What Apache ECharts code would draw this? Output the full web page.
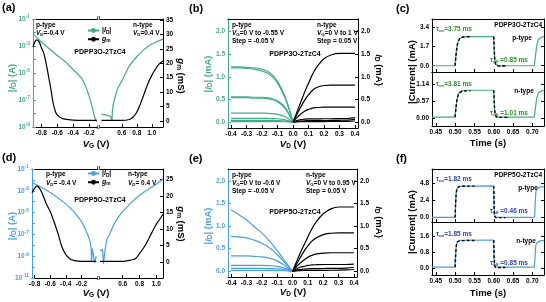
<!DOCTYPE html>
<html>
<head>
<meta charset="utf-8">
<script src="https://cdn.jsdelivr.net/npm/echarts@6.0.0/dist/echarts.min.js"></script>
<style>
html, body { margin: 0; padding: 0; background: #fff; }
#chart { width: 546px; height: 302px; }
</style>
</head>
<body>
<div id="chart"></div>
<script>
// colours
const GREEN = '#45a98c';
const BLUE = '#4a9fe0';
const TAU_GREEN = '#2e8b2e';
const TAU_BLUE = '#3342a8';
const FONT = '"Liberation Sans", Arial, sans-serif';

// ---- (a) PDPP3O-2TzC4 transfer curves ----
const aVgP = [-0.905, -0.85, -0.8, -0.7, -0.6, -0.5, -0.4, -0.3, -0.25, -0.2, -0.16, -0.13, -0.105];
const aIdP = [7.9e-3, 4e-3, 2e-3, 6.3e-4, 2e-4, 7e-5, 1.8e-5, 4.5e-6, 1.3e-6, 2e-7, 2.8e-8, 5.5e-9, 2.5e-9];
const aVgN = [0.33, 0.4, 0.45, 0.47, 0.475, 0.5, 0.55, 0.6, 0.7, 0.8, 0.9, 1.0, 1.1, 1.15];
const aIdN = [9e-9, 7.5e-9, 6e-9, 3e-9, 1.5e-8, 1e-7, 8e-7, 2.5e-6, 3.2e-5, 1.6e-4, 5.6e-4, 1.4e-3, 2.5e-3, 3.2e-3];
const aGmVgP = [-0.905, -0.88, -0.86, -0.83, -0.8, -0.77, -0.74, -0.71, -0.68, -0.65, -0.62, -0.6, -0.55, -0.5, -0.4, -0.3, -0.105];
const aGmP = [25.7, 27.5, 28.1, 27.5, 25.5, 23.5, 20, 15.5, 11, 6, 3, 2.1, 1.0, 0.6, 0.3, 0.2, 0.2];
const aGmVgN = [0.33, 0.6, 0.7, 0.75, 0.8, 0.85, 0.9, 0.95, 1.0, 1.05, 1.1, 1.15];
const aGmN = [0.2, 0.2, 0.5, 1.3, 3, 6, 9.5, 13, 15.8, 18, 19.8, 20.8];
const aTicksP = [-0.8, -0.6, -0.4, -0.2];
const aTicksN = [0.6, 0.8, 1.0];
const aGmTicks = [0, 5, 10, 15, 20, 25, 30, 35];

// ---- (b) PDPP3O-2TzC4 output curves ----
const bVp = [-0.4, -0.35, -0.3, -0.25, -0.2, -0.15, -0.1, -0.05, 0];
const bIp = [
  [1.22, 1.22, 1.21, 1.2, 1.17, 1.09, 0.9, 0.55, 0],
  [1.2, 1.2, 1.19, 1.17, 1.13, 1.05, 0.86, 0.52, 0],
  [0.56, 0.56, 0.56, 0.55, 0.55, 0.53, 0.47, 0.32, 0],
  [0.54, 0.54, 0.54, 0.53, 0.53, 0.51, 0.45, 0.3, 0],
  [0.2, 0.2, 0.2, 0.2, 0.2, 0.19, 0.17, 0.12, 0],
  [0.085, 0.085, 0.085, 0.085, 0.085, 0.08, 0.075, 0.05, 0],
  [0.04, 0.04, 0.04, 0.04, 0.04, 0.038, 0.035, 0.025, 0],
  [0.012, 0.012, 0.012, 0.012, 0.012, 0.011, 0.01, 0.008, 0]
];
const bVn = [0, 0.025, 0.05, 0.075, 0.1, 0.125, 0.15, 0.2, 0.25, 0.3, 0.35, 0.4];
const bIn = [
  [0, 0.22, 0.44, 0.66, 0.86, 1.05, 1.2, 1.4, 1.49, 1.52, 1.52, 1.52],
  [0, 0.17, 0.33, 0.48, 0.6, 0.7, 0.76, 0.81, 0.82, 0.82, 0.82, 0.82],
  [0, 0.1, 0.18, 0.24, 0.28, 0.31, 0.32, 0.33, 0.33, 0.33, 0.33, 0.33],
  [0, 0.035, 0.055, 0.065, 0.07, 0.072, 0.073, 0.074, 0.075, 0.077, 0.08, 0.1],
  [0, 0.015, 0.025, 0.03, 0.032, 0.033, 0.034, 0.035, 0.037, 0.04, 0.045, 0.06],
  [0, 0.005, 0.008, 0.01, 0.011, 0.012, 0.012, 0.013, 0.014, 0.015, 0.018, 0.025]
];
const vdTicks = [-0.4, -0.3, -0.2, -0.1, 0, 0.1, 0.2, 0.3, 0.4];
const idTicks = [0, 0.5, 1.0, 1.5, 2.0];
const arrowX = [-0.3, 0.3];
const bArrowTop = 1.63;

// ---- (c) PDPP3O-2TzC4 transient response ----
const cT = [0.44, 0.499, 0.5, 0.502, 0.504, 0.506, 0.508, 0.511, 0.515, 0.52, 0.53, 0.599, 0.6, 0.601, 0.602, 0.603, 0.605, 0.608, 0.612, 0.705, 0.706, 0.708, 0.71, 0.712, 0.714, 0.717, 0.721, 0.726, 0.73];
const cTopI = [0, 0, 0.1, 0.9, 1.5, 1.95, 2.2, 2.4, 2.52, 2.58, 2.6, 2.6, 2.4, 1.5, 0.8, 0.4, 0.12, 0.03, 0, 0, 0.1, 0.9, 1.5, 1.95, 2.2, 2.4, 2.52, 2.58, 2.6];
const cBotI = [0.04, 0.04, 0.08, 0.35, 0.57, 0.7, 0.79, 0.86, 0.9, 0.92, 0.93, 0.93, 0.85, 0.55, 0.32, 0.18, 0.08, 0.05, 0.04, 0.04, 0.08, 0.35, 0.57, 0.7, 0.79, 0.86, 0.9, 0.92, 0.93];
const cFitRiseT = [0.5, 0.502, 0.504, 0.506, 0.508, 0.511, 0.515, 0.52, 0.53, 0.54];
const cFitRiseTop = [0, 0.88, 1.48, 1.93, 2.18, 2.38, 2.5, 2.56, 2.59, 2.6];
const cFitRiseBot = [0.04, 0.33, 0.55, 0.68, 0.77, 0.84, 0.88, 0.9, 0.91, 0.91];
const cFitFallT = [0.6, 0.601, 0.602, 0.603, 0.605, 0.608, 0.612, 0.62, 0.635];
const cFitFallTop = [2.6, 1.6, 0.85, 0.42, 0.12, 0.02, -0.02, -0.02, -0.02];
const cFitFallBot = [0.93, 0.57, 0.33, 0.19, 0.08, 0.04, 0.03, 0.03, 0.03];
const timeTicks = [0.45, 0.5, 0.55, 0.6, 0.65, 0.7];
const cTopTicks = [0, 1.7, 3.4];
const cBotTicks = [0, 0.57, 1.14];

// ---- (d) PDPP5O-2TzC4 transfer curves ----
const dVgP = [-0.835, -0.8, -0.7, -0.6, -0.5, -0.4, -0.3, -0.2, -0.15, -0.11, -0.09, -0.075, -0.07, -0.06, -0.04, -0.03, -0.01];
const dIdP = [6.3e-3, 4.5e-3, 1.8e-3, 7e-4, 2.2e-4, 6.3e-5, 1.3e-5, 1.6e-6, 3.2e-7, 6.3e-8, 2.5e-8, 5e-9, 3.2e-10, 5e-9, 4e-9, 2.5e-10, 1e-9];
const dVgN = [0.33, 0.36, 0.372, 0.39, 0.41, 0.43, 0.45, 0.5, 0.55, 0.6, 0.7, 0.8, 0.9, 1.0, 1.08];
const dIdN = [3.2e-9, 4e-9, 2e-10, 4e-9, 3.2e-8, 6.3e-8, 1.3e-7, 1e-6, 4e-6, 1.3e-5, 7.9e-5, 4e-4, 1.3e-3, 4e-3, 1.2e-2];
const dGmVgP = [-0.835, -0.8, -0.77, -0.74, -0.7, -0.65, -0.6, -0.55, -0.5, -0.45, -0.4, -0.35, -0.3, -0.2, -0.01];
const dGmP = [20.9, 22.3, 22.9, 22.3, 20.5, 17.5, 15.2, 12, 8.5, 4.5, 2.2, 1.0, 0.5, 0.2, 0.2];
const dGmVgN = [0.33, 0.6, 0.7, 0.75, 0.8, 0.85, 0.9, 0.95, 1.0, 1.05, 1.08];
const dGmN = [0.2, 0.2, 0.6, 1.0, 2.5, 4.3, 6.5, 9.0, 11.4, 13.2, 14.5];
const dTicksP = [-0.8, -0.6, -0.4, -0.2];
const dTicksN = [0.6, 0.8, 1.0];
const dGmTicks = [0, 5, 10, 15, 20, 25];

// ---- (e) PDPP5O-2TzC4 output curves ----
const eVp = [-0.4, -0.35, -0.3, -0.25, -0.2, -0.15, -0.1, -0.05, 0];
const eIp = [
  [1.36, 1.25, 1.14, 0.99, 0.85, 0.67, 0.46, 0.23, 0],
  [0.77, 0.76, 0.74, 0.69, 0.62, 0.52, 0.37, 0.19, 0],
  [0.34, 0.34, 0.34, 0.33, 0.32, 0.29, 0.23, 0.13, 0],
  [0.13, 0.13, 0.13, 0.13, 0.13, 0.125, 0.11, 0.07, 0],
  [0.065, 0.065, 0.065, 0.065, 0.063, 0.06, 0.055, 0.035, 0],
  [0.02, 0.02, 0.02, 0.02, 0.02, 0.019, 0.017, 0.012, 0]
];
const eVn = [0, 0.025, 0.05, 0.075, 0.1, 0.125, 0.15, 0.2, 0.25, 0.3, 0.35, 0.4];
const eIn = [
  [0, 0.2, 0.4, 0.58, 0.76, 0.93, 1.07, 1.27, 1.38, 1.42, 1.42, 1.42],
  [0, 0.15, 0.3, 0.44, 0.56, 0.66, 0.73, 0.81, 0.84, 0.85, 0.85, 0.85],
  [0, 0.1, 0.18, 0.25, 0.31, 0.35, 0.38, 0.4, 0.41, 0.41, 0.41, 0.41],
  [0, 0.05, 0.09, 0.11, 0.13, 0.14, 0.145, 0.15, 0.15, 0.15, 0.15, 0.16],
  [0, 0.025, 0.04, 0.05, 0.055, 0.058, 0.06, 0.062, 0.064, 0.066, 0.07, 0.09],
  [0, 0.01, 0.015, 0.018, 0.02, 0.02, 0.021, 0.022, 0.023, 0.025, 0.03, 0.04]
];
const eArrowTop = 1.53;

// ---- (f) PDPP5O-2TzC4 transient response ----
const fT = [0.44, 0.499, 0.5, 0.501, 0.502, 0.503, 0.505, 0.508, 0.512, 0.52, 0.599, 0.6, 0.601, 0.602, 0.603, 0.605, 0.705, 0.706, 0.707, 0.708, 0.709, 0.711, 0.714, 0.718, 0.725, 0.73];
const fTopI = [0, 0, 0.3, 1.8, 2.9, 3.6, 4.1, 4.3, 4.38, 4.4, 4.42, 3.5, 1.1, 0.35, 0.1, 0, 0, 0.3, 1.8, 2.9, 3.6, 4.0, 4.15, 4.25, 4.3, 4.32];
const fBotI = [0.05, 0.05, 0.1, 0.6, 0.95, 1.15, 1.3, 1.36, 1.38, 1.39, 1.4, 1.1, 0.4, 0.15, 0.08, 0.05, 0.05, 0.1, 0.6, 0.95, 1.15, 1.26, 1.32, 1.35, 1.37, 1.37];
const fFitRiseT = [0.5, 0.501, 0.502, 0.503, 0.505, 0.508, 0.512, 0.52, 0.535, 0.55];
const fFitRiseTop = [0, 1.7, 2.8, 3.5, 4.05, 4.28, 4.36, 4.38, 4.4, 4.4];
const fFitRiseBot = [0.05, 0.55, 0.9, 1.1, 1.27, 1.34, 1.36, 1.37, 1.38, 1.38];
const fFitFallT = [0.6, 0.6005, 0.601, 0.602, 0.603, 0.605, 0.61, 0.62, 0.63];
const fFitFallTop = [4.42, 2.6, 1.2, 0.35, 0.1, 0, -0.03, -0.03, -0.03];
const fFitFallBot = [1.4, 1.0, 0.45, 0.16, 0.08, 0.04, 0.03, 0.03, 0.03];
const fTopTicks = [0, 2.4, 4.8];
const fBotTicks = [0, 0.8, 1.6];

function pairs(xs, ys) {
  return xs.map((x, i) => [x, ys[i]]);
}

function rich(size) {
  const s = Math.round(size * 0.68 * 10) / 10;
  return {
    i: {fontStyle: 'italic', fontWeight: 'bold', fontSize: size, fontFamily: FONT},
    sub: {fontWeight: 'bold', fontSize: s, fontFamily: FONT, padding: [size * 0.5, 0, 0, 0]},
    sup: {fontWeight: 'bold', fontSize: s, fontFamily: FONT, padding: [0, 0, size * 0.55, 0]}
  };
}

const chart = echarts.init(document.getElementById('chart'));

// grid boxes (pixels)
const grids = [
  {left: 33, top: 19, width: 64, height: 108},    // a, left of break
  {left: 100, top: 19, width: 63, height: 108},   // a, right of break
  {left: 228, top: 19, width: 130, height: 109},  // b
  {left: 432, top: 19, width: 112, height: 53},   // c top
  {left: 432, top: 72, width: 112, height: 54},   // c bottom
  {left: 32, top: 169, width: 65, height: 109},   // d, left of break
  {left: 100, top: 169, width: 63, height: 109},  // d, right of break
  {left: 228, top: 169, width: 129, height: 108}, // e
  {left: 432, top: 169, width: 112, height: 53},  // f top
  {left: 432, top: 222, width: 112, height: 53}   // f bottom
].map(g => Object.assign({outerBoundsMode: 'none', containLabel: false}, g));

const tickLabel = {fontSize: 6.5, fontWeight: 'bold', fontFamily: FONT, color: '#000', margin: 3};

function xBottom(grid, min, max, ticks, digits, labels) {
  return {
    type: 'value', gridIndex: grid, position: 'bottom', min: min, max: max,
    axisLine: {show: true, onZero: false, lineStyle: {color: '#000', width: 1}},
    axisTick: {show: true, inside: true, length: 3, customValues: ticks, lineStyle: {color: '#000'}},
    axisLabel: Object.assign({}, tickLabel, {show: labels !== false, customValues: ticks,
      formatter: v => v.toFixed(digits)}),
    splitLine: {show: false}
  };
}
function xTop(grid, min, max) {
  return {
    type: 'value', gridIndex: grid, position: 'top', min: min, max: max,
    axisLine: {show: true, onZero: false, lineStyle: {color: '#000', width: 1}},
    axisTick: {show: false}, axisLabel: {show: false}, splitLine: {show: false}
  };
}
function yValue(grid, pos, min, max, ticks, o) {
  o = o || {};
  const color = o.color || '#000';
  return {
    type: 'value', gridIndex: grid, position: pos, min: min, max: max, show: o.show !== false,
    axisLine: {show: true, onZero: false, lineStyle: {color: color, width: 1}},
    axisTick: {show: true, inside: true, length: 3, customValues: ticks, lineStyle: {color: color}},
    axisLabel: Object.assign({}, tickLabel, {show: o.labels !== false, color: color, customValues: ticks,
      formatter: v => (o.digits == null ? String(v) : v.toFixed(o.digits))}),
    splitLine: {show: false}
  };
}
// log axis: a tick every decade, a label on the odd exponents only
function yLog(grid, min, max, o) {
  o = o || {};
  const color = o.color || '#000';
  return {
    type: 'log', logBase: 10, gridIndex: grid, position: 'left', min: min, max: max, show: o.show !== false,
    interval: 1,
    axisLine: {show: true, onZero: false, lineStyle: {color: color, width: 1}},
    axisTick: {show: true, inside: true, length: 3, lineStyle: {color: color}},
    axisLabel: Object.assign({}, tickLabel, {color: color, interval: 0, hideOverlap: false, rich: rich(7),
      formatter: v => {
        const e = Math.round(Math.log10(v));
        return Math.abs(e) % 2 === 1 ? '10{sup|' + e + '}' : '';
      }}),
    minorTick: {show: false},
    splitLine: {show: false}
  };
}

const xAxes = [
  xBottom(0, -0.905, -0.1, aTicksP, 1), xTop(0, -0.905, -0.1),
  xBottom(1, 0.31, 1.15, aTicksN, 1), xTop(1, 0.31, 1.15),
  xBottom(2, -0.42, 0.42, vdTicks, 1), xTop(2, -0.42, 0.42),
  xBottom(3, 0.44, 0.73, timeTicks, 2, false), xTop(3, 0.44, 0.73),
  xBottom(4, 0.44, 0.73, timeTicks, 2), xTop(4, 0.44, 0.73),
  xBottom(5, -0.835, 0, dTicksP, 1), xTop(5, -0.835, 0),
  xBottom(6, 0.33, 1.08, dTicksN, 1), xTop(6, 0.33, 1.08),
  xBottom(7, -0.42, 0.42, vdTicks, 1), xTop(7, -0.42, 0.42),
  xBottom(8, 0.44, 0.73, timeTicks, 2, false), xTop(8, 0.44, 0.73),
  xBottom(9, 0.44, 0.73, timeTicks, 2), xTop(9, 0.44, 0.73)
];

const yAxes = [
  yLog(0, 1e-9, 1e-1, {color: GREEN}),
  yValue(0, 'right', -2.1, 35.35, aGmTicks, {show: false}),
  yLog(1, 1e-9, 1e-1, {show: false}),
  yValue(1, 'right', -2.1, 35.35, aGmTicks),
  yValue(2, 'left', -0.13, 2.28, idTicks, {color: GREEN, digits: 1}),
  yValue(2, 'right', -0.13, 2.28, idTicks, {digits: 1}),
  yValue(3, 'left', -0.56, 4.17, cTopTicks, {digits: 1}),
  yValue(3, 'right', -0.56, 4.17, cTopTicks, {labels: false}),
  yValue(4, 'left', -0.255, 1.535, cBotTicks, {digits: 2}),
  yValue(4, 'right', -0.255, 1.535, cBotTicks, {labels: false}),
  yLog(5, 1e-11, 1e-1, {color: BLUE}),
  yValue(5, 'right', -4.85, 28.1, dGmTicks, {show: false}),
  yLog(6, 1e-11, 1e-1, {show: false}),
  yValue(6, 'right', -4.85, 28.1, dGmTicks),
  yValue(7, 'left', -0.126, 2.26, idTicks, {color: BLUE, digits: 1}),
  yValue(7, 'right', -0.126, 2.26, idTicks, {digits: 1}),
  yValue(8, 'left', -0.64, 6.8, fTopTicks, {digits: 1}),
  yValue(8, 'right', -0.64, 6.8, fTopTicks, {labels: false}),
  yValue(9, 'left', -0.34, 2.3, fBotTicks, {digits: 1}),
  yValue(9, 'right', -0.34, 2.3, fBotTicks, {labels: false})
];

function line(name, xi, yi, data, color, o) {
  o = o || {};
  return Object.assign({
    type: 'line', name: name, xAxisIndex: xi, yAxisIndex: yi, data: data,
    symbol: 'none', smooth: o.smooth == null ? 0.3 : o.smooth,
    lineStyle: {color: color, width: o.width || 1.2, type: o.dash || 'solid'},
    itemStyle: {color: color}, z: o.z || 2, silent: true
  }, o.extra || {});
}

function arrows(top) {
  return {
    silent: true, symbol: ['none', 'arrow'], symbolSize: [4, 6],
    lineStyle: {color: '#000', width: 0.8, type: 'solid'},
    label: {show: false},
    data: arrowX.map(x => [{coord: [x, -0.2]}, {coord: [x, top]}])
  };
}

const series = [];
// (a)
series.push(line('IdA', 0, 0, pairs(aVgP, aIdP), GREEN, {smooth: 0.2}));
series.push(line('IdA', 2, 2, pairs(aVgN, aIdN), GREEN, {smooth: 0.2}));
series.push(line('gmA', 0, 1, pairs(aGmVgP, aGmP), '#000', {smooth: 0.4}));
series.push(line('gmA', 2, 3, pairs(aGmVgN, aGmN), '#000', {smooth: 0.4}));
// (b)
bIp.forEach((ys, k) => series.push(line('pB' + k, 4, 4, pairs(bVp, ys), GREEN,
  {smooth: 0.4, extra: k === 0 ? {markLine: arrows(bArrowTop)} : {}})));
bIn.forEach((ys, k) => series.push(line('nB' + k, 4, 5, pairs(bVn, ys), '#000', {smooth: 0.4})));
// (c)
series.push(line('cTop', 6, 6, pairs(cT, cTopI), GREEN, {smooth: false}));
series.push(line('cBot', 8, 8, pairs(cT, cBotI), GREEN, {smooth: false}));
series.push(line('cFit1', 6, 6, pairs(cFitRiseT, cFitRiseTop), '#000', {smooth: 0.3, dash: [3, 2], width: 1.4, z: 3}));
series.push(line('cFit2', 6, 6, pairs(cFitFallT, cFitFallTop), '#000', {smooth: 0.3, dash: [3, 2], width: 1.4, z: 3}));
series.push(line('cFit3', 8, 8, pairs(cFitRiseT, cFitRiseBot), '#000', {smooth: 0.3, dash: [3, 2], width: 1.4, z: 3}));
series.push(line('cFit4', 8, 8, pairs(cFitFallT, cFitFallBot), '#000', {smooth: 0.3, dash: [3, 2], width: 1.4, z: 3}));
// (d)
series.push(line('IdD', 10, 10, pairs(dVgP, dIdP), BLUE, {smooth: false}));
series.push(line('IdD', 12, 12, pairs(dVgN, dIdN), BLUE, {smooth: false}));
series.push(line('gmD', 10, 11, pairs(dGmVgP, dGmP), '#000', {smooth: 0.4}));
series.push(line('gmD', 12, 13, pairs(dGmVgN, dGmN), '#000', {smooth: 0.4}));
// (e)
eIp.forEach((ys, k) => series.push(line('pE' + k, 14, 14, pairs(eVp, ys), BLUE,
  {smooth: 0.4, extra: k === 0 ? {markLine: arrows(eArrowTop)} : {}})));
eIn.forEach((ys, k) => series.push(line('nE' + k, 14, 15, pairs(eVn, ys), '#000', {smooth: 0.4})));
// (f)
series.push(line('fTop', 16, 16, pairs(fT, fTopI), BLUE, {smooth: false}));
series.push(line('fBot', 18, 18, pairs(fT, fBotI), BLUE, {smooth: false}));
series.push(line('fFit1', 16, 16, pairs(fFitRiseT, fFitRiseTop), '#000', {smooth: 0.3, dash: [3, 2], width: 1.4, z: 3}));
series.push(line('fFit2', 16, 16, pairs(fFitFallT, fFitFallTop), '#000', {smooth: 0.3, dash: [3, 2], width: 1.4, z: 3}));
series.push(line('fFit3', 18, 18, pairs(fFitRiseT, fFitRiseBot), '#000', {smooth: 0.3, dash: [3, 2], width: 1.4, z: 3}));
series.push(line('fFit4', 18, 18, pairs(fFitFallT, fFitFallBot), '#000', {smooth: 0.3, dash: [3, 2], width: 1.4, z: 3}));

// text helper for the graphic layer
function txt(x, y, text, o) {
  o = o || {};
  const size = o.size || 6.5;
  return {
    type: 'text', x: x, y: y, rotation: o.rot || 0, silent: true, z: 10,
    style: {
      text: text, fill: o.color || '#000',
      fontSize: size, fontWeight: 'bold', fontFamily: FONT,
      align: o.align || 'left', verticalAlign: 'middle',
      rich: rich(size)
    }
  };
}
const R90 = Math.PI / 2;
const texts = [
  // panel letters
  txt(2, 8, '(a)', {size: 11}), txt(189, 9, '(b)', {size: 11}), txt(396, 9, '(c)', {size: 11}),
  txt(2, 158, '(d)', {size: 11}), txt(189, 159, '(e)', {size: 11}), txt(396, 159, '(f)', {size: 11}),
  // (a)
  txt(36, 25, 'p-type'), txt(36, 33, '{i|V}{sub|D}=-0.4 V'),
  txt(133, 25, 'n-type'), txt(133, 33, '{i|V}{sub|D}=0.4 V'),
  txt(100, 52, 'PDPP3O-2TzC4', {size: 7, align: 'center'}),
  txt(98.5, 18, '//', {size: 6, align: 'center'}), txt(98.5, 127, '//', {size: 6, align: 'center'}),
  txt(12, 78, '|{i|I}{sub|D}| (A)', {size: 9.5, rot: R90, align: 'center', color: GREEN}),
  txt(181, 76, '{i|g}{sub|m} (mS)', {size: 9.5, rot: -R90, align: 'center'}),
  txt(96, 144, '{i|V}{sub|G} (V)', {size: 9.5, align: 'center'}),
  // (b)
  txt(232, 25, 'p-type'), txt(232, 33, '{i|V}{sub|G}=0 V to -0.55 V'), txt(232, 41.5, 'Step = -0.05 V'),
  txt(317, 25, 'n-type'), txt(317, 33, '{i|V}{sub|G}=0 V to 1 V'), txt(317, 41.5, 'Step = 0.05 V'),
  txt(295, 54, 'PDPP3O-2TzC4', {size: 7, align: 'center'}),
  txt(208, 74, '|{i|I}{sub|D}| (mA)', {size: 9.5, rot: R90, align: 'center', color: GREEN}),
  txt(379, 70, '{i|I}{sub|D} (mA)', {size: 9.5, rot: -R90, align: 'center'}),
  txt(293, 144, '{i|V}{sub|D} (V)', {size: 9.5, align: 'center'}),
  // (c)
  txt(436, 29, 'τ{sub|on}=3.75 ms', {color: TAU_GREEN}),
  txt(542, 25, 'PDPP3O-2TzC4', {align: 'right'}),
  txt(522, 38, 'p-type', {align: 'center'}),
  txt(490, 60, 'τ{sub|off} =0.85 ms', {color: TAU_GREEN}),
  txt(436, 84, 'τ{sub|on}=3.81 ms', {color: TAU_GREEN}),
  txt(524, 91, 'n-type', {align: 'center'}),
  txt(490, 113, 'τ{sub|off} =1.01 ms', {color: TAU_GREEN}),
  txt(412, 72, '|Current| (mA)', {size: 9.5, rot: R90, align: 'center'}),
  txt(488, 143, 'Time (s)', {size: 9.5, align: 'center'}),
  // (d)
  txt(46, 174, 'p-type'), txt(46, 183, '{i|V}{sub|D}= -0.4 V'),
  txt(128, 174, 'n-type'), txt(128, 183, '{i|V}{sub|D}= 0.4 V'),
  txt(100, 200, 'PDPP5O-2TzC4', {size: 7, align: 'center'}),
  txt(98.5, 168, '//', {size: 6, align: 'center'}), txt(98.5, 278, '//', {size: 6, align: 'center'}),
  txt(12, 226, '|{i|I}{sub|D}| (A)', {size: 9.5, rot: R90, align: 'center', color: BLUE}),
  txt(181, 224, '{i|g}{sub|m} (mS)', {size: 9.5, rot: -R90, align: 'center'}),
  txt(96, 293, '{i|V}{sub|G} (V)', {size: 9.5, align: 'center'}),
  // (e)
  txt(232, 175, 'p-type'), txt(232, 183, '{i|V}{sub|G}=0 V to -0.6 V'), txt(232, 191, 'Step = -0.05 V'),
  txt(306, 175, 'n-type'), txt(306, 183, '{i|V}{sub|G}=0 V to 0.95 V'), txt(306, 191, 'Step = 0.05 V'),
  txt(295, 212, 'PDPP5O-2TzC4', {size: 7, align: 'center'}),
  txt(208, 226, '|{i|I}{sub|D}| (mA)', {size: 9.5, rot: R90, align: 'center', color: BLUE}),
  txt(379, 222, '{i|I}{sub|D} (mA)', {size: 9.5, rot: -R90, align: 'center'}),
  txt(293, 292, '{i|V}{sub|D} (V)', {size: 9.5, align: 'center'}),
  // (f)
  txt(436, 179, 'τ{sub|on}=1.82 ms', {color: TAU_BLUE}),
  txt(542, 175, 'PDPP5O-2TzC4', {align: 'right'}),
  txt(528, 188, 'p-type', {align: 'center'}),
  txt(490, 211, 'τ{sub|off} =0.46 ms', {color: TAU_BLUE}),
  txt(436, 234, 'τ{sub|on}=1.85 ms', {color: TAU_BLUE}),
  txt(526, 241, 'n-type', {align: 'center'}),
  txt(490, 263, 'τ{sub|off} =0.85 ms', {color: TAU_BLUE}),
  txt(412, 222, '|Current| (mA)', {size: 9.5, rot: R90, align: 'center'}),
  txt(488, 293, 'Time (s)', {size: 9.5, align: 'center'})
];

function legendName(name) {
  return name.indexOf('Id') === 0 ? '|{i|I}{sub|D}|' : '{i|g}{sub|m}';
}
const legendBase = {
  orient: 'vertical', itemWidth: 11, itemHeight: 6, itemGap: 1, padding: 0,
  selectedMode: false, formatter: legendName,
  textStyle: {fontSize: 7, fontWeight: 'bold', fontFamily: FONT, color: '#000', rich: rich(7), padding: [0, 0, 0, -2]}
};

const option = {
  animation: false,
  backgroundColor: '#fff',
  textStyle: {fontFamily: FONT},
  grid: grids,
  xAxis: xAxes,
  yAxis: yAxes,
  legend: [
    Object.assign({}, legendBase, {data: ['IdA', 'gmA'], left: 87, top: 27}),
    Object.assign({}, legendBase, {data: ['IdD', 'gmD'], left: 87, top: 170})
  ],
  series: series,
  graphic: texts
};
chart.setOption(option);
</script>
</body>
</html>
